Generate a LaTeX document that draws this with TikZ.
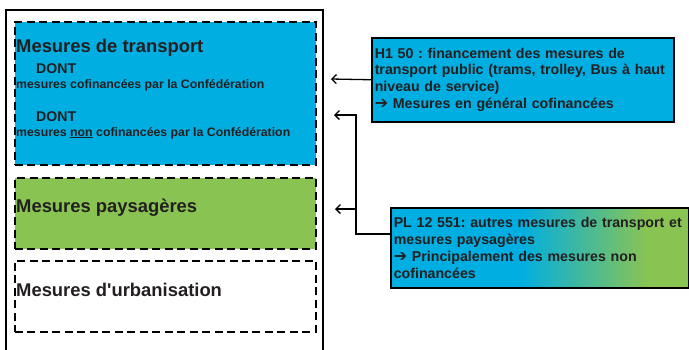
\documentclass[tikz,border=0pt]{standalone}
\usepackage{fontspec}
\setmainfont{Liberation Sans}
\newfontfamily\symfont{DejaVu Sans}
\usetikzlibrary{positioning,arrows.meta}
\definecolor{mblue}{RGB}{0,174,226}
\definecolor{mgreen}{RGB}{137,196,83}
\definecolor{mtext}{RGB}{35,31,32}
\newcommand{\flechedroite}{{\symfont\bfseries\fontsize{16}{16.8}\selectfont ➔}}
\tikzset{
cadre/.style={
  draw,
  line width=1.5pt,
  anchor=north west,
  minimum width=317pt,
  minimum height=360pt
  },
mesbox/.style={
  draw,
  dash pattern=on 8pt off 4.5pt,
  line width=1.8pt,
  anchor=north west,
  minimum width=301pt,
  inner sep=0pt
  },
titre/.style={
  anchor=base west,
  inner sep=0pt,
  text=mtext,
  font=\bfseries\fontsize{18.4}{22}\selectfont
  },
dont/.style={
  titre,
  font=\bfseries\fontsize{14.1}{17}\selectfont
  },
sous/.style={
  titre,
  font=\bfseries\fontsize{12.3}{15}\selectfont
  },
infobox/.style={
  draw,
  line width=1.5pt,
  anchor=north west,
  align=left,
  inner sep=3pt,
  text=mtext,
  font=\bfseries\frenchspacing\fontsize{14.2}{16.8}\selectfont
  },
fleche/.style={
  ->,
  line width=1.3pt
  }
}

\begin{document}
\begin{tikzpicture}[x=1pt,y=-1pt,>={Straight Barb[length=4.5pt,width=9pt]}]
            \useasboundingbox (0,0) rectangle (689,349);
            \clip (0,0) rectangle (689,349);
            % cadre et mesures
            \node[cadre] (tout) at (5,9) {};
            \node[mesbox,fill=mblue,minimum height=143pt] (transp) at (14,21) {};
            \node[mesbox,fill=mgreen,minimum height=71pt] (pays) at (14,177) {};
            \node[mesbox,minimum height=71pt] (urba) at (14,260) {};
            \node[titre] (ttransp) at (16,52) {Mesures de transport};
            \node[dont] (dont1) at (36,73) {DONT};
            \node[sous] (cofin) at (16,88) {mesures cofinancées par la Confédération};
            \node[dont] (dont2) at (36,121) {DONT};
            \node[sous] (noncofin) at (16,136) {mesures \underline{non} cofinancées par la Confédération};
            \node[titre] (tpays) at (16,212) {Mesures paysagères};
            \node[titre] (turba) at (16,296) {Mesures d\textquotesingle urbanisation};
            % financements
            \node[infobox,fill=mblue,text width=296pt,minimum height=84pt]
            (h150) at (371,37)
            {H1 50 : financement des mesures de\\
             transport public (trams, trolley, Bus à haut\\
             niveau de service)\\
             \flechedroite{} Mesures en général cofinancées};
            % fond degrade bleu-vert
            \fill[mblue] (390,207) rectangle (520,287);
            \shade[left color=mblue,right color=mgreen] (520,207) rectangle (647,287);
            \fill[mgreen] (647,207) rectangle (688,287);
            \node[infobox,text width=292pt,minimum height=80pt]
            (pl12) at (390,207)
            {PL 12 551: autres mesures de transport et\\
             mesures paysagères\\
             \flechedroite{} Principalement des mesures non\\
             cofinancées};
            % fleches
            \coordinate (pH) at (331,79);
            \coordinate (coude) at (356,234);
            \coordinate (pT) at (334,115);
            \coordinate (pP) at (335,209);
            \draw[fleche] (h150.west) -- (pH);
            \draw[fleche] (pl12.west |- coude) -- (coude) |- (pT);
            \draw[fleche] (coude |- pP) -- (pP);
        \end{tikzpicture}
\end{document}
